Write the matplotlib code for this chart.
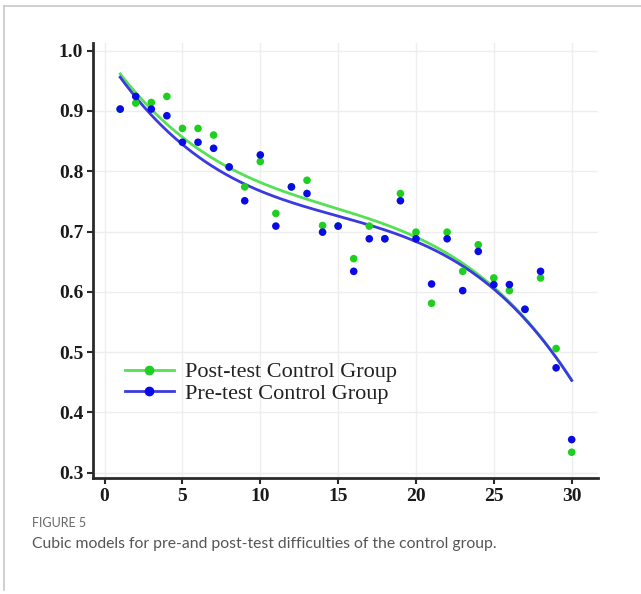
import numpy as np
import matplotlib
matplotlib.use("Agg")
import matplotlib.pyplot as plt
from matplotlib.lines import Line2D

items = list(range(1, 31))
pre_test = [0.903, 0.924, 0.903, 0.892, 0.848, 0.848, 0.838, 0.807, 0.751, 0.827,
            0.709, 0.774, 0.763, 0.699, 0.709, 0.634, 0.688, 0.688, 0.751, 0.688,
            0.613, 0.688, 0.602, 0.667, 0.612, 0.612, 0.571, 0.634, 0.474, 0.355]
post_test = [0.903, 0.913, 0.914, 0.924, 0.871, 0.871, 0.860, 0.807, 0.774, 0.816,
             0.730, 0.774, 0.785, 0.710, 0.709, 0.655, 0.709, 0.688, 0.763, 0.699,
             0.581, 0.699, 0.634, 0.678, 0.623, 0.602, 0.571, 0.623, 0.506, 0.334]
x_ticks = [0, 5, 10, 15, 20, 25, 30]
y_ticks = [0.3, 0.4, 0.5, 0.6, 0.7, 0.8, 0.9, 1.0]
labels = ["Post-test Control Group", "Pre-test Control Group"]
caption_head = "FIGURE 5"
caption_text = "Cubic models for pre-and post-test difficulties of the control group."

W, H = 641, 594
fig = plt.figure(figsize=(W / 100, H / 100), dpi=100)

# outer frame lines (top and left)
fig.add_artist(Line2D([4 / W, 1.0], [1 - 6 / H, 1 - 6 / H], color="#c8c8c8", lw=1.2))
fig.add_artist(Line2D([4 / W, 4 / W], [1 - 6 / H, 1 - 590 / H], color="#c8c8c8", lw=1.2))

ax = fig.add_axes([93 / W, (H - 478) / H, (598 - 93) / W, (478 - 43) / H])

green_line = "#55e055"
blue_line = "#3a3ae0"
green_pt = "#1fcf1f"
blue_pt = "#0a0ae6"

x = np.array(items, dtype=float)
xs = np.linspace(1, 30, 300)
cp = np.polyfit(x, post_test, 3)
cb = np.polyfit(x, pre_test, 3)
ax.plot(xs, np.polyval(cp, xs), color=green_line, lw=2.0, zorder=3)
ax.plot(xs, np.polyval(cb, xs), color=blue_line, lw=2.0, zorder=3)
ax.scatter(x, post_test, s=30, color=green_pt, zorder=4, edgecolors="none")
ax.scatter(x, pre_test, s=30, color=blue_pt, zorder=5, edgecolors="none")

ax.set_xlim(-0.745, 31.69)
ax.set_ylim(0.2913, 1.0126)
ax.set_xticks(x_ticks)
ax.set_yticks(y_ticks)
ax.set_xticklabels([str(t) for t in x_ticks])
ax.set_yticklabels([f"{t:.1f}" for t in y_ticks])
ax.grid(True, color="#eeeeee", lw=1.0, zorder=0)
ax.set_axisbelow(True)

for s in ["top", "right"]:
    ax.spines[s].set_visible(False)
for s in ["left", "bottom"]:
    ax.spines[s].set_color("#2a2a2a")
    ax.spines[s].set_linewidth(2.0)

ax.tick_params(axis="both", direction="out", length=4, width=1.5, color="#2a2a2a",
               pad=3, labelsize=14)
for lab in ax.get_xticklabels() + ax.get_yticklabels():
    lab.set_fontfamily("Liberation Serif")
    lab.set_fontweight("bold")
    lab.set_color("#1a1a1a")

handles = [
    Line2D([], [], color=green_line, lw=2.0, marker="o", markersize=6,
           markerfacecolor=green_pt, markeredgecolor=green_pt),
    Line2D([], [], color=blue_line, lw=2.0, marker="o", markersize=6,
           markerfacecolor=blue_pt, markeredgecolor=blue_pt),
]
leg = ax.legend(handles, labels, loc="center left", bbox_to_anchor=(0.045, (478 - 383) / 435),
                frameon=False, handlelength=2.2, handletextpad=0.5, labelspacing=0.05,
                borderaxespad=0, prop={"family": "Liberation Serif", "size": 16})
for t in leg.get_texts():
    t.set_color("#222222")

fig.text(32 / W, 1 - 523 / H, caption_head, fontsize=9, color="#666666",
         family="Lato", va="center", ha="left")
fig.text(32 / W, 1 - 544 / H, caption_text, fontsize=11.3, color="#555555",
         family="Lato", va="center", ha="left")

fig.savefig("out.png", dpi=100)
